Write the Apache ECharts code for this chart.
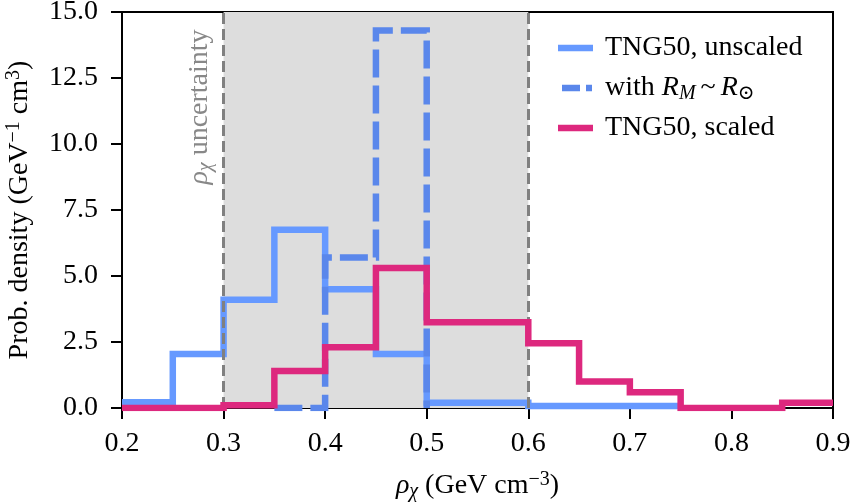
<!DOCTYPE html>
<html><head><meta charset="utf-8">
<script src="https://cdn.jsdelivr.net/npm/echarts@6/dist/echarts.min.js"></script>
<style>html,body{margin:0;padding:0;background:#fff}#c{width:852px;height:504px}</style>
</head><body><div id="c"></div>
<script>
// Data (bin edges and densities)
const unscaledEdges = [0.20,0.25,0.30,0.35,0.40,0.45,0.50,0.60,0.65,0.70,0.75];
const unscaledValues = [0.22,2.05,4.1,6.75,4.5,2.05,0.2,0.08,0.08,0.08];
const rmEdges = [0.35,0.40,0.45,0.50];
const rmValues = [0.0,5.7,14.3];
const scaledEdges = [0.20,0.30,0.35,0.40,0.45,0.50,0.60,0.65,0.70,0.75,0.85,0.90];
const scaledValues = [0.0,0.1,1.4,2.3,5.3,3.25,2.45,1.0,0.6,0.0,0.2];
const uncertaintyRange = [0.3, 0.6];
const xTicks = [0.2,0.3,0.4,0.5,0.6,0.7,0.8,0.9];
const yTicks = [0,2.5,5,7.5,10,12.5,15];

function stepPoints(edges, vals, dropEnd){
  const pts = [];
  for (let i=0;i<vals.length;i++) pts.push([edges[i], vals[i]]);
  pts.push([edges[edges.length-1], vals[vals.length-1]]);
  if (dropEnd) pts.push([edges[edges.length-1], 0]);
  return pts;
}

const FONT = '"Liberation Serif", "DejaVu Serif", serif';
const FS = 28, SFS = 20;
const chart = echarts.init(document.getElementById('c'), null, {renderer:'canvas'});
const blue = '#6699ff', blueDash = '#5a87eb', pink = '#dd287e';
const richBase = {
  i:{fontFamily:FONT,fontStyle:'italic',fontSize:FS,color:'#000'},
  s:{fontFamily:FONT,fontStyle:'italic',fontSize:SFS,color:'#000',padding:[12,0,0,0]},
  p:{fontFamily:FONT,fontSize:SFS,color:'#000',padding:[0,0,12,0]}
};

chart.setOption({
  animation:false,
  grid:{left:122,right:19,top:12,bottom:96,containLabel:false,outerBoundsMode:'none',
    show:true,borderColor:'#000',borderWidth:2,backgroundColor:'transparent'},
  xAxis:{type:'value',min:xTicks[0],max:xTicks[xTicks.length-1],interval:0.1,
    axisLine:{show:true,onZero:false,lineStyle:{color:'#000',width:2}},
    axisTick:{show:true,length:11,lineStyle:{color:'#000',width:2}},
    splitLine:{show:false},
    axisLabel:{color:'#000',fontFamily:FONT,fontSize:FS,margin:22,formatter:v=>v.toFixed(1)},
    name:'{i|ρ}{s|χ} (GeV cm{p|−3})',nameLocation:'middle',nameGap:62,
    nameTextStyle:{color:'#000',fontFamily:FONT,fontSize:FS,rich:richBase}
  },
  yAxis:{type:'value',min:0,max:15,interval:2.5,
    axisLine:{show:true,lineStyle:{color:'#000',width:2}},
    axisTick:{show:true,length:11,lineStyle:{color:'#000',width:2}},
    splitLine:{show:false},
    axisLabel:{color:'#000',fontFamily:FONT,fontSize:FS,margin:24,formatter:v=>v.toFixed(1)},
    name:'Prob. density (GeV{p|−1} cm{p|3})',nameLocation:'middle',nameGap:86,
    nameTextStyle:{color:'#000',fontFamily:FONT,fontSize:FS,rich:richBase}
  },
  series:[
    {type:'line',name:'band',data:[],silent:true,
      markArea:{silent:true,itemStyle:{color:'#dddddd'},data:[[{xAxis:uncertaintyRange[0]},{xAxis:uncertaintyRange[1]}]]},
      markLine:{silent:true,symbol:'none',label:{show:false},
        lineStyle:{color:'#808080',type:[11,5],width:3},
        data:[{xAxis:uncertaintyRange[0]},{xAxis:uncertaintyRange[1]}]}
    },
    {type:'line',name:'TNG50, unscaled',step:'end',showSymbol:false,symbol:'none',
      data:stepPoints(unscaledEdges,unscaledValues,false),
      lineStyle:{color:blue,width:6.5,join:'miter',cap:'butt'},z:3},
    {type:'line',name:'with RM~R⊙',step:'end',showSymbol:false,symbol:'none',
      data:stepPoints(rmEdges,rmValues,true),
      lineStyle:{color:blueDash,width:6.5,type:[28,8],join:'miter',cap:'butt'},z:4},
    {type:'line',name:'TNG50, scaled',step:'end',showSymbol:false,symbol:'none',
      data:stepPoints(scaledEdges,scaledValues,false),
      lineStyle:{color:pink,width:6.5,join:'miter',cap:'butt'},z:5}
  ],
  graphic:[
    {type:'text',x:200,y:107,rotation:Math.PI/2,
      style:{text:'{i|ρ}{s|χ} uncertainty',align:'center',verticalAlign:'middle',fill:'#888',
        font:FS+'px '+FONT,
        rich:{i:{fontFamily:FONT,fontStyle:'italic',fontSize:FS,fill:'#888'},
              s:{fontFamily:FONT,fontStyle:'italic',fontSize:SFS,fill:'#888',padding:[12,0,0,0]}}}},
    {type:'line',shape:{x1:558,y1:48,x2:593,y2:48},style:{stroke:blue,lineWidth:6.5}},
    {type:'text',x:605,y:48,style:{text:'TNG50, unscaled',verticalAlign:'middle',fill:'#000',font:FS+'px '+FONT}},
    {type:'line',shape:{x1:562,y1:88,x2:592,y2:88},style:{stroke:blueDash,lineWidth:6.5,lineDash:[18,6]}},
    {type:'text',x:605,y:88,style:{text:'with {i|R}{s|M}{t|~}{i|R}{s|⊙}',verticalAlign:'middle',fill:'#000',font:FS+'px '+FONT,
      rich:{i:{fontFamily:FONT,fontStyle:'italic',fontSize:FS,fill:'#000'},
            t:{fontFamily:FONT,fontSize:FS,fill:'#000',padding:[0,5,0,5]},
            s:{fontFamily:FONT,fontStyle:'italic',fontSize:SFS,fill:'#000',padding:[12,0,0,0]}}}},
    {type:'line',shape:{x1:558,y1:128,x2:593,y2:128},style:{stroke:pink,lineWidth:6.5}},
    {type:'text',x:605,y:128,style:{text:'TNG50, scaled',verticalAlign:'middle',fill:'#000',font:FS+'px '+FONT}}
  ]
});
</script></body></html>
